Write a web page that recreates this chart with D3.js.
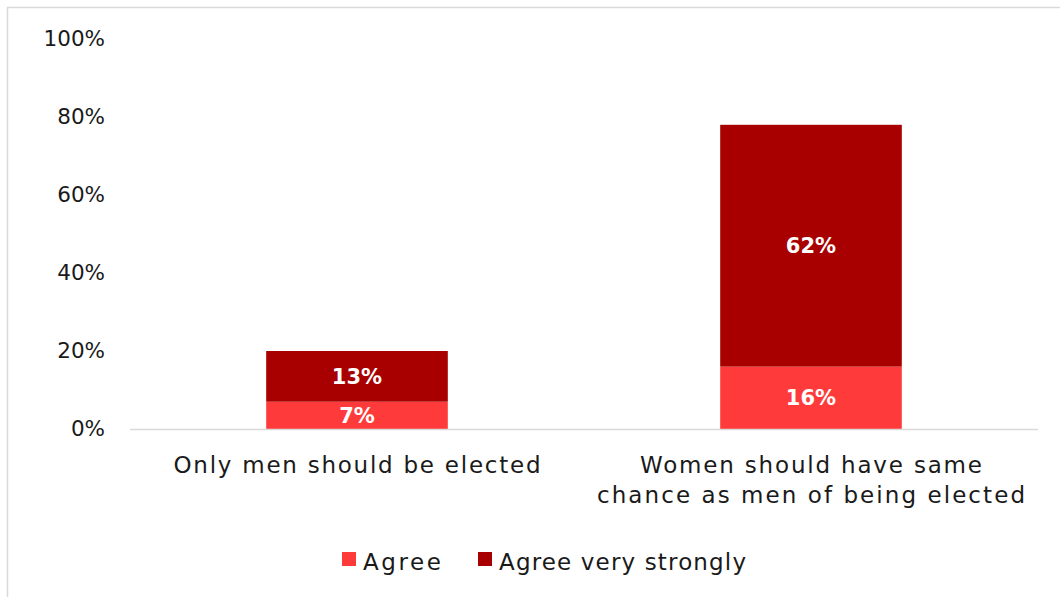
<!DOCTYPE html>
<html>
<head>
<meta charset="utf-8">
<script src="https://cdn.jsdelivr.net/npm/d3@7"></script>
<style>
  html, body { margin: 0; padding: 0; background: #fff; }
  svg { display: block; }
  text { font-family: "Century Gothic", "DejaVu Sans", sans-serif; }
</style>
</head>
<body>
<svg id="chart" width="1060" height="597"></svg>
<script>
// Survey statements and response shares (percent)
const categories = [
  ["Only men should be elected"],
  ["Women should have same", "chance as men of being elected"]
];
const seriesNames = ["Agree", "Agree very strongly"];
const agree = [7, 16];
const agreeVeryStrongly = [13, 62];
const tickValues = [0, 20, 40, 60, 80, 100];
const colors = ["#ff3a3a", "#a80000"];

// Rendered widths of the wide geometric face, used to stretch the fallback font
const categoryLineWidths = [[367], [342, 428]];
const legendWidths = [78, 247];

const svg = d3.select("#chart");
const W = 1060, H = 597;

// Outer frame
svg.append("rect")
  .attr("x", 7.5).attr("y", 7.5)
  .attr("width", W + 10).attr("height", H + 10)
  .attr("fill", "#fff").attr("stroke", "#d9d9d9").attr("stroke-width", 1.5);

const plot = { left: 130, right: 1038, top: 39, bottom: 429 };

const x = d3.scaleBand()
  .domain(d3.range(categories.length))
  .range([plot.left, plot.right])
  .padding(0);
const barW = x.bandwidth() * 0.4;

const y = d3.scaleLinear().domain([0, 100]).range([plot.bottom, plot.top]);

// Y axis labels
const yAxis = d3.axisLeft(y)
  .tickValues(tickValues)
  .tickFormat(d => d + "%")
  .tickSize(0)
  .tickPadding(0);
const yg = svg.append("g").attr("transform", `translate(105,0)`).call(yAxis);
yg.select(".domain").remove();
yg.selectAll("text")
  .attr("font-size", 21.5).attr("fill", "#1a1a1a")
  .attr("font-family", "\"Century Gothic\", \"DejaVu Sans\", sans-serif");

// Stacked bars
const rows = categories.map((c, i) => ({ i, Agree: agree[i], "Agree very strongly": agreeVeryStrongly[i] }));
const stack = d3.stack().keys(seriesNames)(rows);

stack.forEach((layer, k) => {
  const g = svg.append("g");
  g.selectAll("rect").data(layer).join("rect")
    .attr("x", d => x(d.data.i) + (x.bandwidth() - barW) / 2)
    .attr("y", d => y(d[1]))
    .attr("width", barW)
    .attr("height", d => y(d[0]) - y(d[1]))
    .attr("fill", colors[k]);
  g.selectAll("text").data(layer).join("text")
    .attr("x", d => x(d.data.i) + x.bandwidth() / 2)
    .attr("y", d => (y(d[0]) + y(d[1])) / 2)
    .attr("dy", "0.36em")
    .attr("text-anchor", "middle")
    .attr("fill", "#fff")
    .attr("font-weight", "bold")
    .attr("font-size", 21)
    .text(d => (d[1] - d[0]) + "%");
});

// Baseline
svg.append("line")
  .attr("x1", plot.left).attr("x2", plot.right)
  .attr("y1", y(0) + 0.5).attr("y2", y(0) + 0.5)
  .attr("stroke", "#d9d9d9").attr("stroke-width", 1.5);

// Category labels
categories.forEach((lines, i) => {
  lines.forEach((ln, j) => {
    svg.append("text")
      .attr("x", x(i) + x.bandwidth() / 2)
      .attr("y", 473 + j * 30)
      .attr("text-anchor", "middle")
      .attr("font-size", 23)
      .attr("fill", "#1a1a1a")
      .attr("textLength", categoryLineWidths[i][j])
      .attr("lengthAdjust", "spacing")
      .text(ln);
  });
});

// Legend
const legendX = [342, 478];
seriesNames.forEach((name, k) => {
  svg.append("rect")
    .attr("x", legendX[k]).attr("y", 552).attr("width", 14).attr("height", 14)
    .attr("fill", colors[k]);
  svg.append("text")
    .attr("x", legendX[k] + 21).attr("y", 570)
    .attr("font-size", 23).attr("fill", "#1a1a1a")
    .attr("textLength", legendWidths[k])
    .attr("lengthAdjust", "spacing")
    .text(name);
});
</script>
</body>
</html>
